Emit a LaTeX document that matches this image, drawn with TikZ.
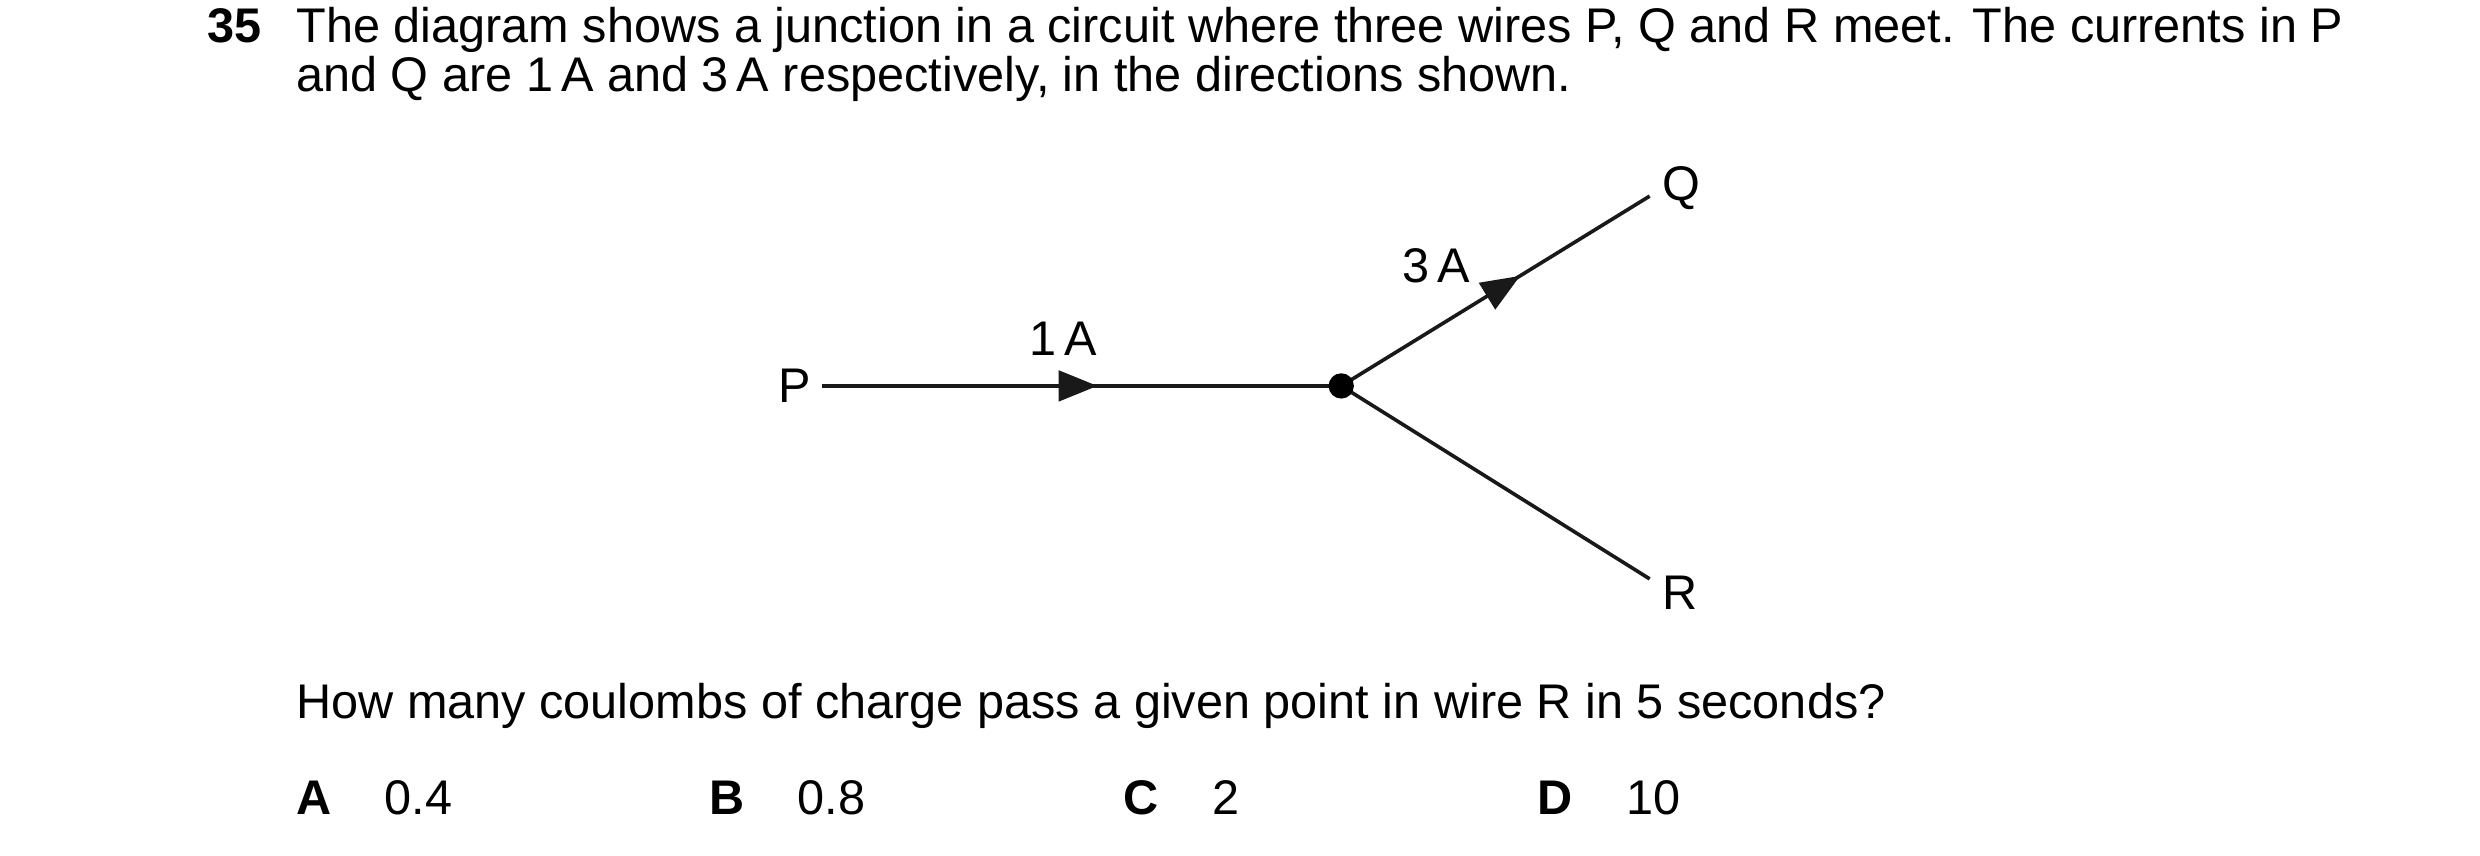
\documentclass[tikz,border=0pt]{standalone}
\usepackage{fontspec}
\setmainfont{Liberation Sans}
\usetikzlibrary{arrows.meta,decorations.markings}
\tikzset{
    wire/.style={draw=black!90, line width=1.3pt},
    current/.style={wire, postaction={decorate},
        decoration={markings,mark=at position #1 with {\arrow{Triangle[length=14pt,width=11pt]}}}},
    txt/.style={anchor=base west, inner sep=0pt, font=\fontsize{17.5}{21}\selectfont},
    lbl/.style={inner sep=0pt, font=\fontsize{17.5}{21}\selectfont},
}
\begin{document}
\begin{tikzpicture}[x=0.02cm, y=-0.02cm]
	\useasboundingbox (0,0) rectangle (1568,541);
	% question text
	\node[txt, font=\fontsize{17.5}{21}\selectfont\bfseries] (num) at (131,27) {35};
	\node[txt] (line1) at (187,27) {The diagram shows a junction in a circuit where three wires P, Q and R meet. The currents in P};
	\node[txt] (line2) at (187,58) {and Q are 1\,A and 3\,A respectively, in the directions shown.};
	% junction
	\coordinate (p) at (520,244);
	\coordinate (j) at (848,244);
	\coordinate (q) at (1043,124);
	\coordinate (r) at (1043,366);
	\draw[current=0.53] (p) -- (j);
	\draw[current=0.58] (j) -- (q);
	\draw[wire] (j) -- (r);
	\fill (j) circle (8);
	\node[lbl, anchor=east] (plabel) at (513,244) {P};
	\node[lbl] (qlabel) at (1063,119) {Q};
	\node[lbl] (rlabel) at (1062,375) {R};
	\node[lbl] (ione) at (672,214) {1\,A};
	\node[lbl] (ithree) at (908,168) {3\,A};
	% question and options
	\node[txt] (ask) at (187,454) {How many coulombs of charge pass a given point in wire R in 5 seconds?};
	\foreach \x/\l/\v in {187/A/0.4, 448/B/0.8, 710/C/2, 972/D/10} {
		\node[txt, font=\fontsize{17.5}{21}\selectfont\bfseries] (opt\l) at (\x,515) {\l};
		\node[txt] (val\l) at (\x+56,515) {\v};
	}
\end{tikzpicture}
\end{document}
